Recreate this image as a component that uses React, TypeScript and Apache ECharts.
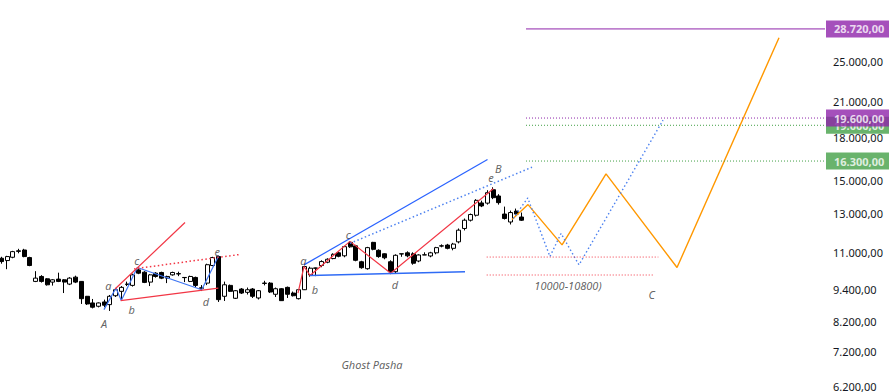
import React, { useEffect, useRef } from "react";
import * as echarts from "echarts";

// ---- candle data (daily OHLC) ----
const candleOpen = [10744,10639,10790,11092,11131,10776,9729,9938,9838,9700,9825,9796,9618,9909,9729,9128,8871,8746,8909,8807,9150,9324,9618,9565,10222,10122,9700,10079,10109,9867,10006,10058,9896,9729,9896,9464,9659,10415,10822,9128,9565,9050,9416,9284,9416,9062,9659,9659,9207,9428,9484,9256,9035,9388,10006,10305,10415,10563,10730,10998,10858,11502,11331,10584,10274,11502,11117,10952,10584,10143,10952,10998,10952,10619,10896,10850,10998,11331,11370,11212,11527,12208,12648,12920,13620,13609,14414,14032,12986,12552,13154,12822];
const candleClose = [10593,10822,11054,11068,10822,10415,9867,9729,9589,9796,9729,9700,9867,9700,9035,8833,8710,8871,8785,9128,9388,9484,9606,10006,10079,9688,10006,9938,9867,9938,10109,10045,9888,9938,9565,9448,10451,10776,8997,9589,9324,9348,9256,9388,9128,9348,9647,9296,9428,8959,9207,9150,9388,10371,10296,10296,10593,10698,10928,10836,11293,11283,10651,10318,11245,11164,10822,10767,10143,10882,10943,10858,10518,10896,10905,10998,11245,11321,11212,11418,12120,12648,12959,13772,13446,14232,13931,13638,12740,13070,12986,12648];
const candleLow = [10496,10252,10744,10975,10790,10384,9700,9680,9556,9556,9700,9256,9577,9659,8833,8796,8666,8703,8710,8573,9101,8986,9537,9516,10036,9659,9537,9888,9825,9659,9972,9951,9700,9700,9496,9335,9577,10384,8909,8947,9296,9024,9217,9198,9062,9004,9565,9256,9101,8947,9062,9120,9004,9376,9930,9951,10340,10518,10698,10790,10790,11236,10606,10274,10230,11117,10767,10698,10036,10079,10812,10790,10451,10563,10896,10790,10928,11260,11164,11117,11453,12105,12579,12852,13378,13523,13843,13523,12686,12418,12903,12606];
const candleHigh = [10812,10858,11092,11188,11188,10812,10165,9993,9867,9825,10100,9825,9909,9972,9741,9140,9024,8890,8997,9179,9456,9537,9720,10058,10318,10165,10036,10122,10143,9972,10143,10143,9909,9972,9930,9577,10496,10812,10858,9720,9598,9376,9456,9476,9456,9376,9755,9700,9476,9456,9516,9315,9416,10406,10362,10318,10651,10744,10975,11045,11331,11551,11380,10628,11283,11527,11164,10975,10651,10928,10952,11068,11021,10928,11021,11045,11283,11404,11428,11477,12208,12740,13014,13842,13754,14384,14566,14141,13408,13182,13294,13070];

// ---- price axis ----
const priceBottom = 6124;
const priceTop = 32513;
const tickValues = [6200, 7200, 8200, 9400, 11000, 13000, 15000, 18000, 21000, 25000];
const barSlots = 144;

// ---- drawn wave lines: bar index / price pairs ----
const blueWaveIdx = [17.95, 20.05, 20.98, 23.78, 35.03, 37.94];
const blueWavePrice = [8621, 9456, 8962, 10327, 9388, 10822];
const redUpperIdx = [19.88, 32.12];
const redUpperPrice = [9416, 12524];
const redLowerIdx = [20.87, 37.94];
const redLowerPrice = [8962, 9456];
const redDotIdx = [23.2, 41.9];
const redDotPrice = [10266, 10928];
const redWaveIdx = [51.87, 52.92, 53.97, 60.96, 68.08, 86.01];
const redWavePrice = [9256, 10371, 9981, 11551, 10079, 14475];
const blueUpperIdx = [52.92, 85.0];
const blueUpperPrice = [10443, 16413];
const blueDotIdx = [60.96, 92.78];
const blueDotPrice = [11453, 15877];
const blueLowerIdx = [53.97, 81.07];
const blueLowerPrice = [9981, 10143];
const orangeIdx = [89.28, 92.08, 98.03, 105.72, 118.13, 135.96];
const orangePrice = [12686, 13523, 11380, 15430, 10327, 27655];
const blueZigIdx = [89.51, 92.03, 95.92, 97.85, 100.99, 115.68];
const blueZigPrice = [12740, 13913, 10822, 11951, 10443, 19420];
const zoneIdxStart = [84.86, 84.86];
const zoneIdxEnd = [114.86, 114.0];
const zonePrice = [10800, 10000];

// ---- horizontal levels ----
const levelPrice = [16300, 19000, 19600, 28720];
const levelStartIdx = 91.73;

// ---- annotations ----
const annText = ["A", "a", "b", "c", "d", "e", "a", "b", "c", "d", "e", "B", "C", "10000-10800)", "Ghost Pasha"];
const annIdx = [17.95, 18.71, 22.8, 23.67, 35.79, 37.76, 52.8, 54.84, 60.66, 68.83, 85.61, 86.89, 113.71, 99.07, 64.8];
const annPrice = [8111, 9565, 8621, 10639, 8935, 11083, 10651, 9388, 11900, 9618, 15215, 15810, 9207, 9565, 6807];

const L = Math.log;
const fmt = (v: number) =>
  Math.round(v).toString().replace(/\B(?=(\d{3})+(?!\d))/g, ".") + ",00";

const pts = (idx: number[], pr: number[]) => idx.map((x, i) => [x, L(pr[i])]);

const RED = "#f23645";
const BLUE = "#2962ff";
const LBLUE = "#4d82f0";
const ORANGE = "#ff9800";
const PURPLE = "#8e24aa";
const GREEN = "#43a047";
const FONT = "Noto Sans";

function lineSeries(data: number[][], color: string, width: number, type: any = "solid", z = 3) {
  return {
    type: "line",
    data,
    symbol: "none",
    silent: true,
    z,
    lineStyle: { color, width, type },
  };
}

export default function App() {
  const ref = useRef<HTMLDivElement>(null);
  useEffect(() => {
    if (!ref.current) return;
    const chart = echarts.init(ref.current, undefined, { renderer: "svg" });

    const candles = candleOpen.map((o, i) => [
      i,
      L(o),
      L(candleClose[i]),
      L(candleLow[i]),
      L(candleHigh[i]),
    ]);

    const levelColors = [GREEN, GREEN, PURPLE, PURPLE];
    const levelTypes: any[] = [[1, 2], [1, 2], [1, 2], "solid"];

    const series: any[] = [
      {
        type: "candlestick",
        data: candles,
        barWidth: 4.5,
        z: 2,
        itemStyle: {
          color: "#ffffff",
          color0: "#000000",
          borderColor: "#000000",
          borderColor0: "#000000",
          borderColorDoji: "#000000",
          borderWidth: 1,
        },
      },
      lineSeries(pts(blueWaveIdx, blueWavePrice), "#3d74f2", 1.2),
      lineSeries(pts(redUpperIdx, redUpperPrice), RED, 1.2),
      lineSeries(pts(redLowerIdx, redLowerPrice), RED, 1.2),
      lineSeries(pts(redDotIdx, redDotPrice), RED, 1.5, [1.5, 2.5]),
      lineSeries(pts(redWaveIdx, redWavePrice), RED, 1.2),
      lineSeries(pts(blueUpperIdx, blueUpperPrice), BLUE, 1.2),
      lineSeries(pts(blueDotIdx, blueDotPrice), LBLUE, 1.5, [1.5, 2.5]),
      lineSeries(pts(blueLowerIdx, blueLowerPrice), "#2f6bf5", 1.6),
      lineSeries(pts(orangeIdx, orangePrice), ORANGE, 1.4),
      lineSeries(pts(blueZigIdx, blueZigPrice), LBLUE, 1.4, [1.5, 2.5]),
      ...zonePrice.map((p, i) =>
        lineSeries([[zoneIdxStart[i], L(p)], [zoneIdxEnd[i], L(p)]], RED, 1, [1, 2])
      ),
      ...levelPrice.map((p, i) =>
        lineSeries([[levelStartIdx, L(p)], [barSlots, L(p)]], levelColors[i], 1, levelTypes[i])
      ),
      {
        type: "scatter",
        symbolSize: 0,
        silent: true,
        z: 5,
        data: annText.map((t, i) => ({ name: t, value: [annIdx[i], L(annPrice[i])] })),
        label: {
          show: true,
          position: "inside",
          formatter: (p: any) => p.name,
          fontFamily: FONT,
          fontStyle: "italic",
          fontSize: 11,
          color: "#3a3a3a",
        },
        clip: false,
      },
      ...levelPrice.map((p, i) => ({
        type: "scatter",
        symbolSize: 0,
        silent: true,
        clip: false,
        z: 10 + i,
        data: [[barSlots, L(p)]],
        label: {
          show: true,
          position: "right",
          distance: 1,
          formatter: fmt(p),
          backgroundColor: levelColors[i],
          color: "#ffffff",
          fontFamily: FONT,
          fontWeight: "bold",
          fontSize: 11,
          padding: [3, 4, 2, 8],
          width: 51,
          height: 12,
          lineHeight: 12,
          align: "left",
        },
      })),
    ];

    chart.setOption({
      animation: false,
      backgroundColor: "#ffffff",
      grid: { left: 0, right: 64, top: 0, bottom: 0, containLabel: false },
      xAxis: {
        type: "value",
        min: -0.227,
        max: barSlots,
        show: false,
        splitLine: { show: false },
      },
      yAxis: {
        type: "value",
        position: "right",
        min: L(priceBottom),
        max: L(priceTop),
        scale: true,
        splitLine: { show: false },
        axisLine: { show: false },
        axisTick: { show: false },
        axisLabel: {
          show: true,
          customValues: tickValues.map((v) => L(v)),
          formatter: (val: number) => fmt(Math.round(Math.exp(val) / 100) * 100),
          margin: 8,
          fontFamily: FONT,
          fontSize: 11,
          color: "#131722",
          align: "left",
        },
      },
      series,
    });
    return () => chart.dispose();
  }, []);

  return (
    <div
      ref={ref}
      style={{ position: "fixed", left: 0, top: 0, width: 889, height: 392, background: "#fff" }}
    />
  );
}
